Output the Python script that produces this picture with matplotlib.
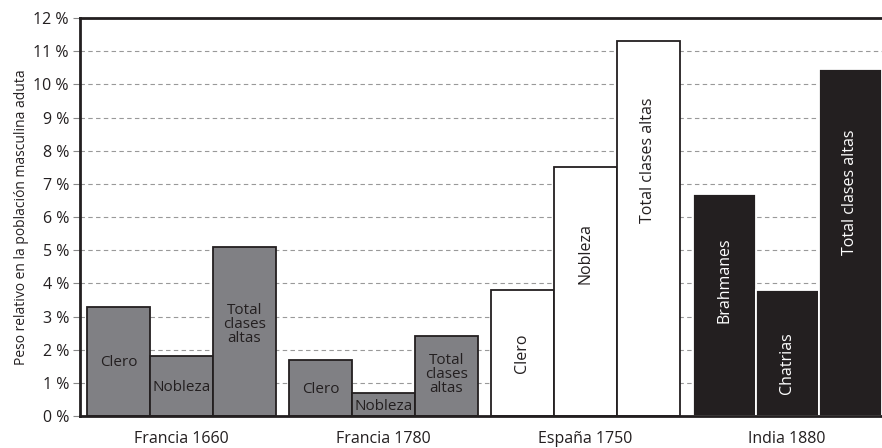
import matplotlib
matplotlib.use("Agg")
import matplotlib.pyplot as plt
import numpy as np

plt.rcParams['font.family'] = ['Open Sans', 'DejaVu Sans']

groups = ["Francia 1660", "Francia 1780", "España 1750", "India 1880"]
bar_labels = [["Clero", "Nobleza", "Total\nclases\naltas"],
              ["Clero", "Nobleza", "Total\nclases\naltas"],
              ["Clero", "Nobleza", "Total clases altas"],
              ["Brahmanes", "Chatrias", "Total clases altas"]]
values = [[3.3, 1.8, 5.1],
          [1.7, 0.7, 2.4],
          [3.8, 7.5, 11.3],
          [6.7, 3.8, 10.45]]
label_y = [[1.6, 0.85, 2.75],
           [0.8, 0.3, 1.25],
           [1.9, 4.9, 7.7],
           [4.1, 1.6, 6.75]]
rotated = [False, False, True, True]
group_colors = ["#808084", "#808084", "#ffffff", "#231f20"]
edge_colors = ["#231f20", "#231f20", "#231f20", "#ffffff"]
text_colors = ["#231f20", "#231f20", "#231f20", "#ffffff"]
yticks = list(range(0, 13))
ytick_labels = [f"{v} %" for v in yticks]

fig = plt.figure(figsize=(8.82, 4.48), dpi=100)
ax = fig.add_axes([80/882, 32/448, 802/882, 398/448])

w = 0.312
for i, g in enumerate(groups):
    for j in range(3):
        x = i + (j - 1) * w
        ax.bar(x, values[i][j], width=w, color=group_colors[i],
               edgecolor=edge_colors[i], linewidth=1.3, zorder=3)
        if rotated[i]:
            ax.text(x, label_y[i][j], bar_labels[i][j], rotation=90,
                    ha="center", va="center", fontsize=11.5,
                    color=text_colors[i], zorder=4)
        else:
            ax.text(x, label_y[i][j], bar_labels[i][j], ha="center",
                    va="center", fontsize=11, color=text_colors[i],
                    linespacing=0.9, zorder=4)

ax.set_xlim(-0.503, 3.47)
ax.set_ylim(0, 12)
ax.set_yticks(yticks)
ax.set_yticklabels(ytick_labels, fontsize=11.5, color="#231f20")
ax.set_xticks(range(len(groups)))
ax.set_xticklabels(groups, fontsize=11.5, color="#231f20")
ax.tick_params(axis="x", length=0, pad=11)
ax.tick_params(axis="y", length=5, width=0.8, color="#888888", pad=3)
ax.yaxis.grid(True, linestyle=(0, (4, 3)), color="#999999", linewidth=0.8, zorder=0)
ax.set_ylabel("Peso relativo en la población masculina aduta", fontsize=10,
              color="#231f20", labelpad=3)

for s in ["left", "bottom", "top"]:
    ax.spines[s].set_linewidth(2)
    ax.spines[s].set_color("#231f20")
    ax.spines[s].set_zorder(5)
ax.spines["right"].set_visible(False)

fig.savefig("out.png", dpi=100)
